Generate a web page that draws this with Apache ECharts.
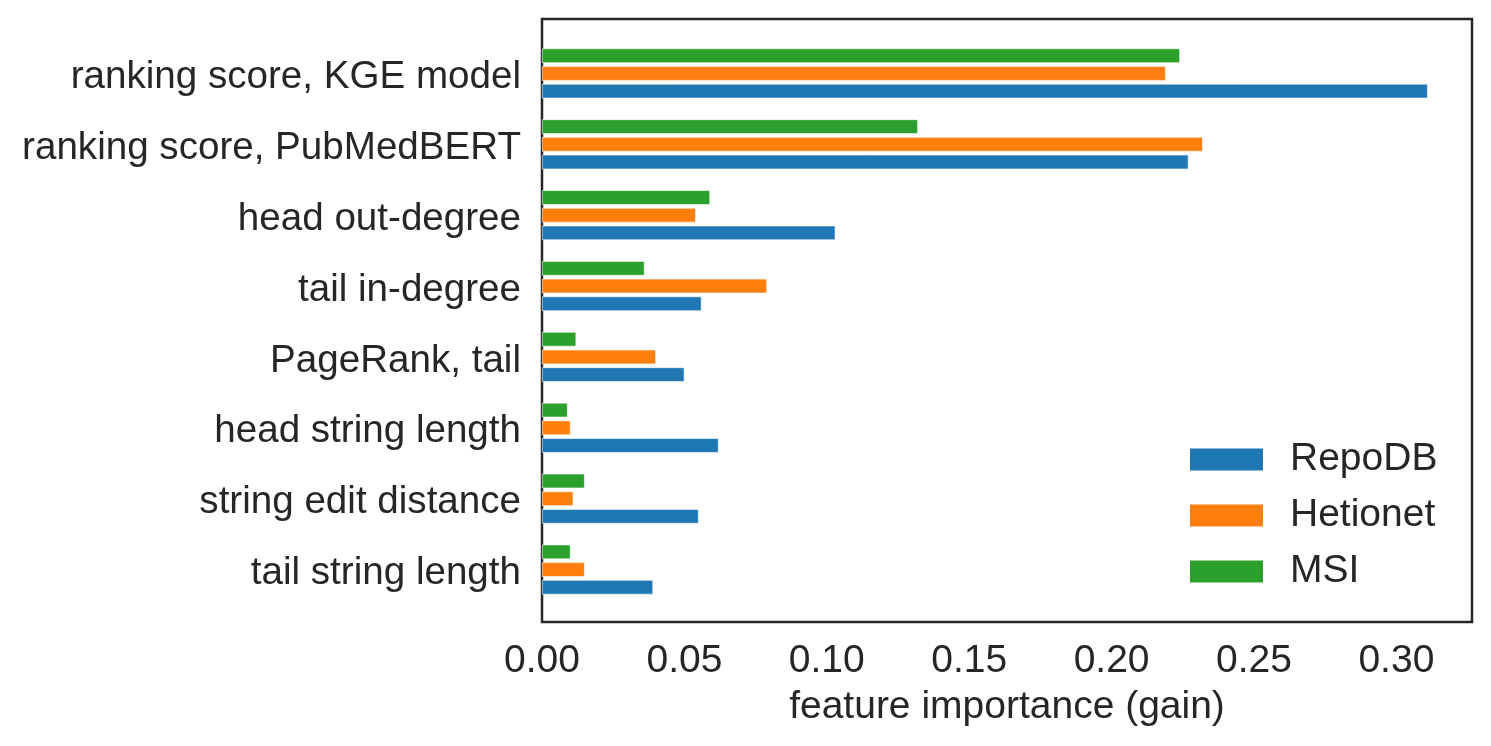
<!DOCTYPE html>
<html>
<head>
<meta charset="utf-8">
<script src="https://cdn.jsdelivr.net/npm/echarts@6/dist/echarts.min.js"></script>
<style>
  html, body { margin: 0; padding: 0; background: #fff; }
  #chart { width: 1491px; height: 746px; }
</style>
</head>
<body>
<div id="chart"></div>
<script>
// categories top to bottom
var features = [
  'ranking score, KGE model',
  'ranking score, PubMedBERT',
  'head out-degree',
  'tail in-degree',
  'PageRank, tail',
  'head string length',
  'string edit distance',
  'tail string length'
];
var repodb   = [0.311, 0.227, 0.103, 0.056, 0.050, 0.062, 0.055, 0.039];
var hetionet = [0.219, 0.232, 0.054, 0.079, 0.040, 0.010, 0.011, 0.015];
var msi      = [0.224, 0.132, 0.059, 0.036, 0.012, 0.009, 0.015, 0.010];
var legendNames = ['RepoDB', 'Hetionet', 'MSI'];

var ink = '#262626';
var font = 'Liberation Sans, Arial, sans-serif';
var fs = 39;

var chart = echarts.init(document.getElementById('chart'));

function bar(name, data, color) {
  return {
    name: name,
    type: 'bar',
    xAxisIndex: 1,
    yAxisIndex: 1,
    data: data,
    barWidth: 14.5,
    barGap: '22%',
    itemStyle: { color: color, borderColor: '#fff', borderWidth: 0.6 }
  };
}

var option = {
  backgroundColor: '#fff',
  animation: false,
  textStyle: { fontFamily: font },
  grid: [
    // frame
    { left: 542, right: 19, top: 19, bottom: 124, show: true,
      borderColor: ink, borderWidth: 2.5, backgroundColor: 'transparent' },
    // data area (matplotlib leaves some room top and bottom)
    { left: 542, right: 19, top: 38, bottom: 141 }
  ],
  legend: {
    data: legendNames,
    orient: 'vertical',
    left: 1183,
    top: 435,
    itemWidth: 75,
    itemHeight: 24,
    itemGap: 17,
    icon: 'rect',
    textStyle: { fontSize: fs, color: ink, fontFamily: font, lineHeight: 39, padding: [0, 0, 0, 21] }
  },
  xAxis: [
    { gridIndex: 0, show: false, type: 'value' },
    {
      gridIndex: 1,
      type: 'value',
      min: 0,
      max: function (v) { return v.max * 1.05; },
      interval: 0.05,
      offset: 17,
      name: 'feature importance (gain)',
      nameLocation: 'middle',
      nameGap: 66,
      nameTextStyle: { fontSize: fs, color: ink, fontFamily: font },
      axisLine: { show: false },
      axisTick: { show: false },
      splitLine: { show: false },
      axisLabel: {
        fontSize: fs, color: ink, fontFamily: font, margin: 20,
        showMaxLabel: false,
        formatter: function (v) { return v.toFixed(2); }
      }
    }
  ],
  yAxis: [
    { gridIndex: 0, show: false, type: 'value' },
    {
      gridIndex: 1,
      type: 'category',
      inverse: true,
      data: features,
      axisLine: { show: false },
      axisTick: { show: false },
      splitLine: { show: false },
      axisLabel: {
        margin: 21,
        formatter: function (v) { return '{t|' + v + '}'; },
        rich: {
          t: { fontSize: 38.6, color: ink, fontFamily: font, lineHeight: 39, padding: [8, 0, 0, 0] }
        }
      }
    }
  ],
  series: [
    bar('MSI', msi, '#2ca02c'),
    bar('Hetionet', hetionet, '#ff7f0e'),
    bar('RepoDB', repodb, '#1f77b4')
  ]
};

chart.setOption(option);
</script>
</body>
</html>
